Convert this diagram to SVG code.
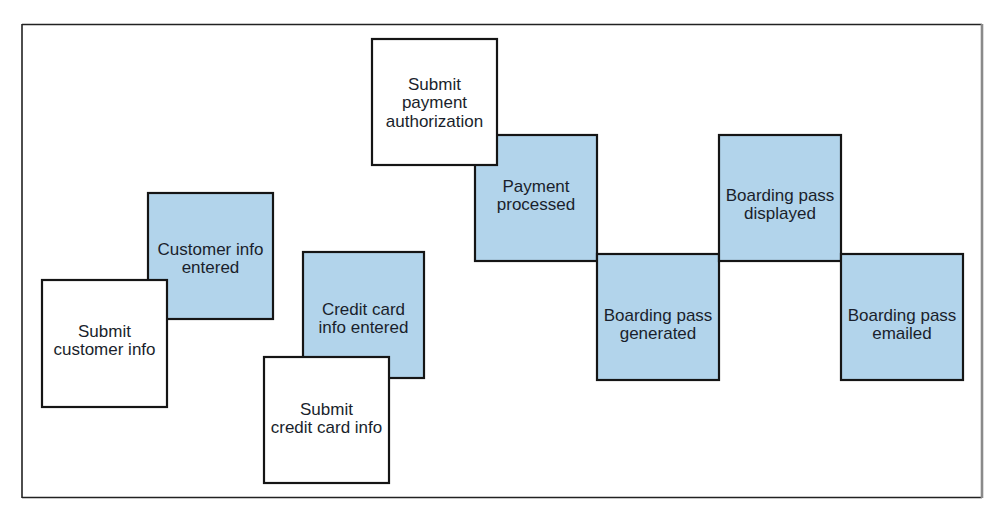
<svg xmlns="http://www.w3.org/2000/svg" width="999" height="511" viewBox="0 0 999 511">
<style>
.box{stroke:#151515;stroke-width:2.2}
.cmd{fill:#ffffff}
.evt{fill:#b2d4eb}
.t{font-family:"Liberation Sans",Arial,sans-serif;font-size:17px;fill:#1a1f2c;text-anchor:middle}
</style>
<rect x="0" y="0" width="999" height="511" fill="#ffffff"/>
<g id="frame" fill="none">
<path d="M22 24.5H982M22 24V498M22 497.5H982" stroke="#222" stroke-width="1.6"/>
<path d="M982 24V498" stroke="#8a8a8a" stroke-width="2.6"/>
</g>
<g id="connectors"></g>
<g id="customer-info-entered">
<rect class="box evt" x="148" y="193" width="125" height="126"/>
<text class="t"><tspan x="210.5" y="254.5">Customer info</tspan><tspan x="210.5" y="273">entered</tspan></text>
</g>
<g id="submit-customer-info">
<rect class="box cmd" x="42" y="280" width="125" height="127"/>
<text class="t"><tspan x="104.5" y="336.5">Submit</tspan><tspan x="104.5" y="355">customer info</tspan></text>
</g>
<g id="credit-card-info-entered">
<rect class="box evt" x="303" y="252" width="121" height="126"/>
<text class="t"><tspan x="363.5" y="314.5">Credit card</tspan><tspan x="363.5" y="333">info entered</tspan></text>
</g>
<g id="submit-credit-card-info">
<rect class="box cmd" x="264" y="357" width="125" height="126"/>
<text class="t"><tspan x="326.5" y="414.5">Submit</tspan><tspan x="326.5" y="433">credit card info</tspan></text>
</g>
<g id="payment-processed">
<rect class="box evt" x="475" y="135" width="122" height="126"/>
<text class="t"><tspan x="536" y="191.5">Payment</tspan><tspan x="536" y="210">processed</tspan></text>
</g>
<g id="submit-payment-authorization">
<rect class="box cmd" x="372" y="39" width="125" height="126"/>
<text class="t"><tspan x="434.5" y="89.5">Submit</tspan><tspan x="434.5" y="108">payment</tspan><tspan x="434.5" y="126.5">authorization</tspan></text>
</g>
<g id="boarding-pass-generated">
<rect class="box evt" x="597" y="254" width="122" height="126"/>
<text class="t"><tspan x="658" y="320.5">Boarding pass</tspan><tspan x="658" y="338.5">generated</tspan></text>
</g>
<g id="boarding-pass-displayed">
<rect class="box evt" x="719" y="135" width="122" height="126"/>
<text class="t"><tspan x="780" y="200.5">Boarding pass</tspan><tspan x="780" y="218.5">displayed</tspan></text>
</g>
<g id="boarding-pass-emailed">
<rect class="box evt" x="841" y="254" width="122" height="126"/>
<text class="t"><tspan x="902" y="320.5">Boarding pass</tspan><tspan x="902" y="338.5">emailed</tspan></text>
</g>
</svg>
